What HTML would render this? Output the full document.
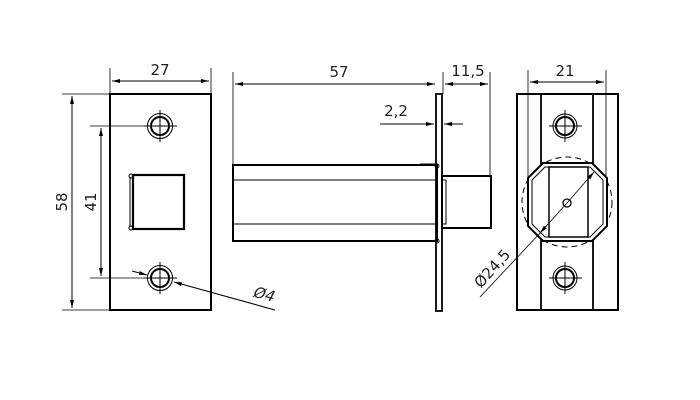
<!DOCTYPE html>
<html><head><meta charset="utf-8"><style>body{margin:0;background:#fff}svg{display:block}text{font-family:"DejaVu Sans","Liberation Sans",sans-serif;font-size:15px;fill:#222}</style></head>
<body>
<svg width="700" height="400" viewBox="0 0 700 400" xmlns="http://www.w3.org/2000/svg">
<defs>
<marker id="a" markerWidth="8" markerHeight="6" refX="8" refY="3" orient="auto-start-reverse" markerUnits="userSpaceOnUse"><path d="M0,1 L8,3 L0,5z" fill="#000"/></marker>
</defs>
<g stroke="#000" fill="none">
<!-- Left plate -->
<rect x="110" y="94" width="101" height="216" stroke-width="2"/>
<circle cx="160" cy="126" r="9" stroke-width="2"/><circle cx="160" cy="126" r="12.5" stroke-width="1"/>
<circle cx="160" cy="278" r="9" stroke-width="2"/><circle cx="160" cy="278" r="12.5" stroke-width="1"/>
<path d="M144,126H177M160,110V142M144,278H177M160,262V294" stroke-width="1"/>
<rect x="133" y="175" width="51" height="54" stroke-width="2.2"/>
<path d="M130,177V227" stroke-width="1"/>
<circle cx="131" cy="176" r="2" stroke-width="1"/><circle cx="131" cy="228" r="2" stroke-width="1"/>
<!-- dims left -->
<path d="M110,68V94M211,68V94" stroke-width="0.8"/>
<path d="M112,81H209" stroke-width="1" marker-start="url(#a)" marker-end="url(#a)"/>
<path d="M62,94H110M62,310H110" stroke-width="0.8"/>
<path d="M72,96V308" stroke-width="1" marker-start="url(#a)" marker-end="url(#a)"/>
<path d="M90,126H160M90,278H160" stroke-width="0.8"/>
<path d="M101,128V276" stroke-width="1" marker-start="url(#a)" marker-end="url(#a)"/>
<path d="M132,271L147,275" stroke-width="1" marker-end="url(#a)"/>
<path d="M275,310L174,282" stroke-width="1" marker-end="url(#a)"/>
<!-- Middle -->
<rect x="233" y="165" width="204" height="76" stroke-width="2"/>
<path d="M233,180H437M233,224H437" stroke-width="1"/>
<rect x="436" y="94" width="6" height="217" stroke-width="1.8"/>
<rect x="442" y="176" width="49" height="52" stroke-width="2"/>
<rect x="442" y="180" width="4" height="44" stroke-width="1"/>
<path d="M420,164H436" stroke-width="1"/>
<circle cx="437" cy="166" r="2" stroke-width="1"/><circle cx="437" cy="241" r="2" stroke-width="1"/>
<path d="M233,72V165M443,72V94M490,72V176" stroke-width="0.8"/>
<path d="M235,84H435" stroke-width="1" marker-start="url(#a)" marker-end="url(#a)"/>
<path d="M445,84H488" stroke-width="1" marker-start="url(#a)" marker-end="url(#a)"/>
<path d="M380,124H434" stroke-width="1" marker-end="url(#a)"/>
<path d="M463,124H444" stroke-width="1" marker-end="url(#a)"/>
<!-- Right -->
<rect x="517" y="94" width="101" height="216" stroke-width="2"/>
<rect x="541" y="94" width="52" height="69" stroke-width="1.8"/>
<rect x="541" y="241" width="52" height="69" stroke-width="1.8"/>
<circle cx="565" cy="126" r="9" stroke-width="2"/><circle cx="565" cy="126" r="12" stroke-width="1"/>
<circle cx="565" cy="278" r="9" stroke-width="2"/><circle cx="565" cy="278" r="12" stroke-width="1"/>
<path d="M549,126H582M565,110V142M549,278H582M565,262V294" stroke-width="1"/>
<circle cx="567" cy="202" r="45" stroke-width="1" stroke-dasharray="6,4"/>
<polygon points="543,163 592,163 607,178 607,226 592,241 543,241 528,226 528,178" stroke-width="2" fill="#fff"/>
<polygon points="545,167 590,167 603,180 603,224 590,237 545,237 532,224 532,180" stroke-width="1"/>
<rect x="549" y="167" width="39" height="70" stroke-width="1.5"/>
<circle cx="567" cy="203" r="4" stroke-width="1.3"/>
<path d="M528,70V178M606,70V178" stroke-width="0.8"/>
<path d="M530,82H604" stroke-width="1" marker-start="url(#a)" marker-end="url(#a)"/>
<path d="M480,297L541,232" stroke-width="0.8"/>
<path d="M567,203L594,172" stroke-width="0.8" marker-end="url(#a)"/>
<path d="M567,203L540,233" stroke-width="0.8" marker-end="url(#a)"/>
</g>
<text x="160" y="75" text-anchor="middle">27</text>
<text x="339" y="77" text-anchor="middle">57</text>
<text x="468" y="76" text-anchor="middle">11,5</text>
<text x="396" y="116" text-anchor="middle">2,2</text>
<text x="565" y="76" text-anchor="middle">21</text>
<text transform="translate(67,202) rotate(-90)" text-anchor="middle">58</text>
<text transform="translate(96,202) rotate(-90)" text-anchor="middle">41</text>
<text transform="translate(262,299) rotate(15) skewX(-12)" text-anchor="middle">Ø4</text>
<text transform="translate(496,272) rotate(-48)" text-anchor="middle">Ø24,5</text>
</svg>
</body></html>
